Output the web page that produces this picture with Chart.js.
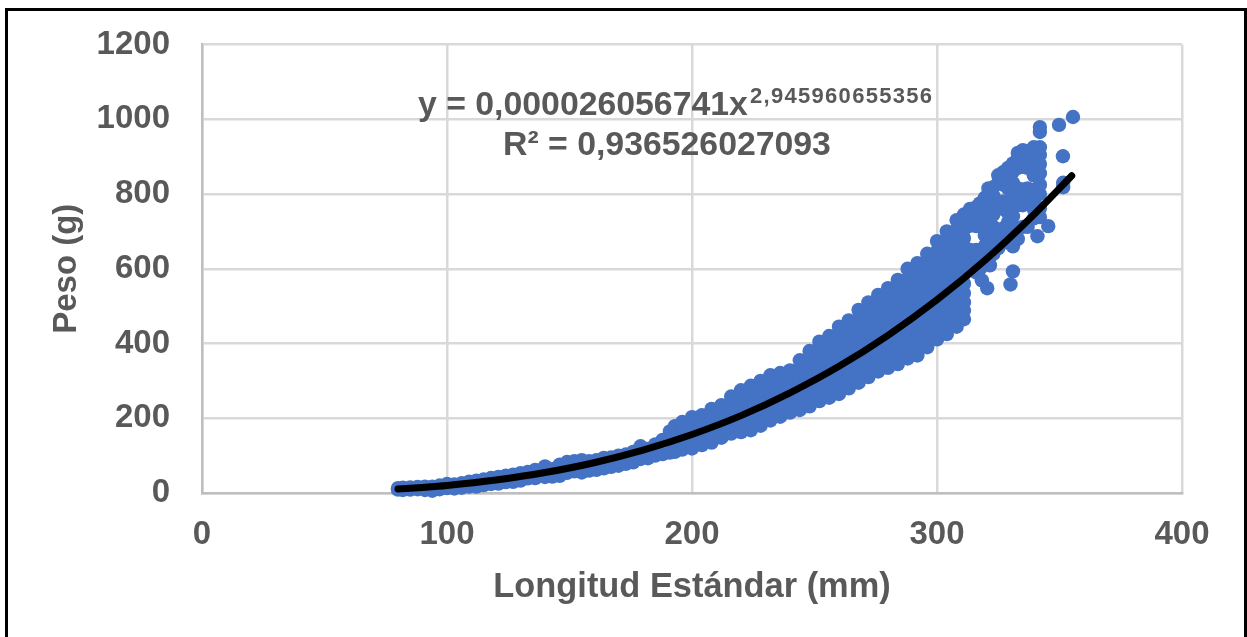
<!DOCTYPE html>
<html lang="es">
<head>
<meta charset="utf-8">
<title>Peso vs Longitud Estándar</title>
<script src="https://cdn.jsdelivr.net/npm/chart.js@4/dist/chart.umd.min.js"></script>
<style>
  html, body { margin: 0; padding: 0; background: #fff; overflow: hidden; }
  #wrap { position: relative; width: 1247px; height: 637px; overflow: hidden; }
  #frame { position: absolute; left: 5px; top: 8px; width: 1242px; height: 640px; border: 3px solid #000; box-sizing: border-box; pointer-events: none; }
</style>
</head>
<body>
<div id="wrap">
  <canvas id="lengthWeightChart" width="1247" height="637"></canvas>
  <div id="frame"></div>
</div>
<script>
/* --------------------------------------
   DATA
-------------------------------------- */
const xTicks = [0, 100, 200, 300, 400];
const yTicks = [0, 200, 400, 600, 800, 1000, 1200];
const xTitle = "Longitud Estándar (mm)";
const yTitle = "Peso (g)";
const equationMain = "y = 0,000026056741x";
const equationPower = "2,945960655356";
const equationR2 = "R² = 0,936526027093";

// length (mm) of each column of fish, weights (g) in the same position below
const columnLengths = [
  80, 82, 85, 88, 91, 94, 97, 100, 103, 106, 109, 112, 115, 118, 121, 124, 127, 130,
  133, 136, 140, 143, 146, 149, 152, 155, 158, 161, 164, 167, 170, 173, 176, 179,
  182, 185, 188, 191, 193,
  196, 200, 204, 208, 212, 216, 220, 224, 228, 232, 236, 240, 244, 248, 252, 256,
  260, 264, 268, 272, 276, 280, 284, 288, 292, 296, 300, 304, 308, 311,
  313.5, 316, 317.5, 319.5, 321, 323, 325, 327, 329, 331, 333, 335, 337, 339.5, 342
];
const columnWeights = [
  [9, 13], [8, 14], [9, 15], [10, 16], [8, 17], [6, 17], [10, 20], [13, 24], [12, 23],
  [14, 26], [17, 30], [17, 33], [21, 36], [24, 40], [25, 43], [29, 46], [30, 49], [33, 53],
  [39, 56], [40, 62], [43, 71], [44, 64], [46, 76], [54, 83], [58, 85], [55, 88], [60, 85],
  [62, 88], [66, 94], [70, 95], [73, 100], [78, 103], [82, 110], [91, 125],
  [93, 118], [100, 130], [104, 142], [108, 150, 165], [110, 140, 179],
  [116, 138, 160, 178, 190],
  [119, 140, 162, 184, 203],
  [128, 150, 172, 190, 208],
  [135, 158, 180, 203, 225],
  [148, 170, 192, 214, 235],
  [159, 180, 200, 222, 240, 258],
  [163, 185, 208, 230, 252, 275],
  [168, 190, 212, 235, 262, 287],
  [180, 203, 226, 250, 275, 300],
  [194, 218, 242, 266, 290, 315],
  [204, 228, 252, 276, 300, 321],
  [215, 238, 262, 285, 308, 328],
  [222, 245, 268, 292, 315, 335, 355],
  [232, 256, 280, 304, 328, 354, 380],
  [246, 270, 294, 318, 342, 366, 388, 405],
  [255, 278, 302, 326, 350, 374, 398, 420],
  [265, 288, 312, 336, 360, 384, 408, 428, 445],
  [280, 304, 328, 352, 376, 400, 424, 444, 462],
  [295, 319, 343, 367, 391, 415, 440, 465, 490],
  [310, 334, 358, 382, 406, 430, 455, 482, 510],
  [325, 348, 371, 394, 417, 440, 463, 486, 508, 530],
  [335, 358, 381, 404, 427, 450, 473, 496, 522, 548],
  [345, 368, 391, 414, 437, 460, 483, 506, 530, 550, 570],
  [360, 383, 406, 429, 452, 475, 498, 521, 544, 572, 600],
  [368, 391, 414, 437, 460, 483, 506, 529, 552, 575, 596, 615],
  [390, 413, 436, 459, 482, 505, 528, 551, 574, 597, 620, 640],
  [411, 434, 457, 480, 503, 526, 549, 572, 595, 618, 647, 674],
  [425, 448, 471, 494, 517, 540, 563, 586, 609, 632, 655, 678, 700],
  [445, 468, 491, 514, 537, 560, 583, 606, 629, 652, 680, 705, 730],
  [465, 488, 510, 535, 560, 585, 610, 635, 660, 682, 705, 725, 745],
  [600, 625, 650, 715, 740, 760],
  [590, 608, 625, 650, 714, 735, 765],
  [600, 625, 650, 715, 745, 775],
  [635, 660, 690, 715, 740, 765, 790],
  [620, 645, 670, 700, 725, 750, 775, 800, 815],
  [640, 665, 690, 712, 745, 770, 795, 818],
  [655, 680, 700, 764, 775, 830, 850],
  [672, 695, 708, 760, 780, 825, 842, 858],
  [670, 700, 725, 750, 775, 815, 845, 870],
  [660, 690, 715, 740, 765, 800, 830, 860, 882],
  [680, 705, 770, 795, 815, 870, 895, 910],
  [712, 770, 790, 812, 873, 900, 917],
  [712, 775, 800, 815, 870, 895, 915],
  [735, 760, 785, 810, 850, 880, 905, 925],
  [738, 762, 800, 825, 855, 880, 905, 925, 966, 979]
];

// the loose fish that stand apart from the columns
const looseLengths = [318.3, 320.5, 321.6, 331, 330, 341, 345.4, 351.5, 351.5, 351.4, 349.8, 355.5];
const looseWeights = [569, 548, 609, 593, 558, 687, 714, 818, 830, 901, 985, 1006];

// power trendline, read at these lengths
const trendLengths = [80, 90, 100, 120, 140, 160, 180, 200, 220, 240, 260, 280, 300, 320, 340, 355];
const trendWeights = [10.5, 15, 20.3, 34.8, 54.7, 81, 114.7, 156.6, 207, 268, 339, 422, 517, 625, 748, 849];

/* --------------------------------------
   BUILD THE POINTS
-------------------------------------- */
const fishPoints = [];
columnLengths.forEach((length, i) => {
  columnWeights[i].forEach((weight) => fishPoints.push({ x: length, y: weight }));
});
looseLengths.forEach((length, i) => fishPoints.push({ x: length, y: looseWeights[i] }));

const trendPoints = trendLengths.map((length, i) => ({ x: length, y: trendWeights[i] }));

/* --------------------------------------
   EQUATION LABEL
-------------------------------------- */
const equationLabel = {
  id: "equationLabel",
  afterDatasetsDraw(chart) {
    const ctx = chart.ctx;
    ctx.save();
    ctx.fillStyle = "#595959";
    ctx.textAlign = "left";
    ctx.textBaseline = "alphabetic";
    ctx.font = "bold 33.8px 'Liberation Sans'";
    ctx.fillText(equationMain, 418, 115);
    ctx.fillText(equationR2, 503, 155);
    ctx.font = "bold 22px 'Liberation Sans'";
    ctx.letterSpacing = "1.3px";
    ctx.fillText(equationPower, 750, 103);
    ctx.restore();
  },
};

/* --------------------------------------
   CHART
-------------------------------------- */
new Chart(document.getElementById("lengthWeightChart"), {
  type: "scatter",
  plugins: [equationLabel],
  data: {
    datasets: [
      {
        label: "Tendencia",
        data: trendPoints,
        showLine: true,
        borderColor: "#000000",
        borderWidth: 7,
        borderCapStyle: "round",
        cubicInterpolationMode: "monotone",
        pointRadius: 0,
      },
      {
        label: "Peso",
        data: fishPoints,
        backgroundColor: "#4472C4",
        borderColor: "#4472C4",
        borderWidth: 0,
        pointRadius: 7.2,
      },
    ],
  },
  options: {
    responsive: false,
    animation: false,
    clip: false,
    layout: { padding: { left: 47, right: 65, top: 44.5, bottom: 0 } },
    plugins: {
      legend: { display: false },
      tooltip: { enabled: false },
    },
    scales: {
      x: {
        type: "linear",
        min: 0,
        max: 400,
        afterBuildTicks: (scale) => {
          scale.ticks = xTicks.map((value) => ({ value }));
        },
        afterFit: (scale) => {
          scale.height = 144;
          scale.paddingTop = 0;
          scale.paddingRight = 0;
        },
        grid: { color: "#D9D9D9", lineWidth: 2.5, drawTicks: false },
        border: { color: "#BFBFBF", width: 2.5 },
        ticks: {
          color: "#595959",
          padding: 22,
          maxRotation: 0,
          callback: (value) => String(value),
          font: { family: "'Liberation Sans'", size: 33, weight: "bold" },
        },
        title: {
          display: true,
          text: xTitle,
          color: "#595959",
          padding: { top: 8, bottom: 29 },
          font: { family: "'Liberation Sans'", size: 34.4, weight: "bold" },
        },
      },
      y: {
        type: "linear",
        min: 0,
        max: 1200,
        afterBuildTicks: (scale) => {
          scale.ticks = yTicks.map((value) => ({ value }));
        },
        afterFit: (scale) => {
          scale.width = 155;
          scale.paddingTop = 0;
          scale.paddingBottom = 0;
        },
        grid: { color: "#D9D9D9", lineWidth: 2.5, drawTicks: false },
        border: { color: "#BFBFBF", width: 2.5 },
        ticks: {
          color: "#595959",
          padding: 32,
          callback: (value) => String(value),
          font: { family: "'Liberation Sans'", size: 33, weight: "bold" },
        },
        title: {
          display: true,
          text: yTitle,
          color: "#595959",
          padding: 0,
          font: { family: "'Liberation Sans'", size: 33, weight: "bold" },
        },
      },
    },
  },
});
</script>
</body>
</html>
